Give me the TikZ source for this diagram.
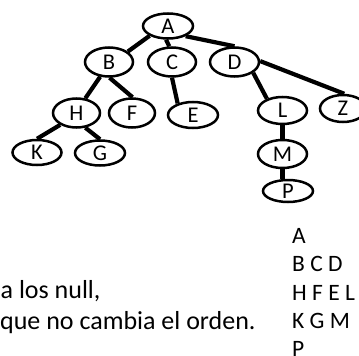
\documentclass[tikz,border=0pt]{standalone}
\usepackage{fontspec}
\setmainfont{Carlito}
\usetikzlibrary{shapes.geometric}
\begin{document}
\begin{tikzpicture}[x=1pt,y=-1pt,
  tn/.style={draw=black,line width=2.5pt,ellipse,inner sep=0pt,
    minimum width=48pt,minimum height=27pt,fill=white,
    font=\fontsize{22.5pt}{24pt}\selectfont},
  edge/.style={line width=4.2pt,black},
  txt/.style={inner sep=0pt,font=\fontsize{26pt}{31pt}\selectfont},
  col/.style={inner sep=0pt,anchor=base west,font=\fontsize{23.5pt}{28.2pt}\selectfont}]
\useasboundingbox (0,0) rectangle (359,356);
\begin{scope}
\clip (0,0) rectangle (359,356);
\node[tn,minimum width=50pt,minimum height=25pt] (A) at (168,26) {A};
\node[tn,minimum height=29pt] (B) at (109,62) {B};
\node[tn,minimum height=29pt] (C) at (172,62) {C};
\node[tn,minimum width=49pt,minimum height=29pt] (D) at (234.5,62) {D};
\node[tn,minimum width=47pt,minimum height=29pt] (H) at (76.5,113) {H};
\node[tn,minimum width=46pt,minimum height=29pt] (F) at (132,113) {F};
\node[tn,minimum width=50pt,minimum height=26pt] (E) at (193,115) {E};
\node[tn,minimum width=49pt,minimum height=27pt] (L) at (282.5,110.5) {L};
\node[tn,minimum width=46pt,minimum height=27pt] (Z) at (343,108.5) {Z};
\node[tn,minimum width=49pt,minimum height=28pt] (M) at (282.5,154) {M};
\node[tn,minimum width=50pt,minimum height=22pt] (P) at (288,191) {P};
\node[tn,minimum width=49pt,minimum height=25pt] (K) at (37,152.5) {K};
\node[tn,minimum width=50pt,minimum height=25pt] (G) at (100,153) {G};
\draw[edge] (A.208) -- (B.29);
\draw[edge] (A.262) -- (C.100);
\draw[edge] (A.330) -- (D.90);
\draw[edge] (B.239) -- (H.59);
\draw[edge] (B.272) -- (F.88);
\draw[edge] (C.270) -- (E.143);
\draw[edge] (D.330) -- (L.143);
\draw[edge] (D.2) -- (Z.85);
\draw[edge] (H.216) -- (K.90);
\draw[edge] (H.301) -- (G.90);
\draw[edge] (L.270) -- (M.90);
\draw[edge] (M.270) -- (M.270 |- P.north);
\node[txt,anchor=base west] (t1) at (0.5,298) {a los null,};
\node[txt,anchor=base west] (t2) at (0,329) {que no cambia el orden.};
\node[col] (l1) at (292,243.5) {A};
\node[col] (l2) at (292,271.7) {B C D};
\node[col] (l3) at (292,300) {H F E L};
\node[col] (l4) at (292,328.2) {K G M};
\node[col] (l5) at (292,356.4) {P};
\end{scope}
\end{tikzpicture}
\end{document}
